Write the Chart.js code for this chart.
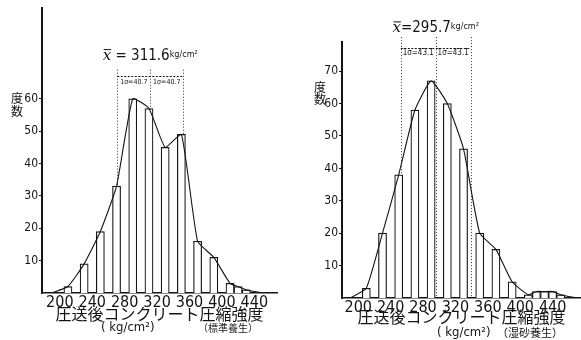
<!DOCTYPE html>
<html>
<head>
<meta charset="utf-8">
<script src="https://cdn.jsdelivr.net/npm/chart.js@4"></script>
<style>
  html, body { margin: 0; padding: 0; background: #fff; }
  #wrap { position: relative; width: 581px; height: 340px; overflow: hidden; }
  canvas { position: absolute; top: 0; }
  #left { left: 0; }
  #right { left: 290px; }
</style>
</head>
<body>
<div id="wrap">
  <canvas id="left" width="290" height="340"></canvas>
  <canvas id="right" width="291" height="340"></canvas>
</div>
<script>
const xTicks = [200, 240, 280, 320, 360, 400, 440];

// 標準養生
const classes1 = [210, 230, 250, 270, 290, 310, 330, 350, 370, 390, 410, 420, 430];
const counts1  = [2, 9, 19, 33, 60, 57, 45, 49, 16, 11, 3, 2, 1];
const polyEnds1 = [190, 450];
const yTicks1 = [10, 20, 30, 40, 50, 60];
const mean1 = 311.6, sd1 = 40.7;

// 湿砂養生
const classes2 = [210, 230, 250, 270, 290, 310, 330, 350, 370, 390, 410, 420, 430, 440, 450];
const counts2  = [3, 20, 38, 58, 67, 60, 46, 20, 15, 5, 1, 2, 2, 2, 1];
const polyEnds2 = [190, 470];
const yTicks2 = [10, 20, 30, 40, 50, 60, 70];
const mean2 = 295.7, sd2 = 43.1;

const narrow = "'Liberation Sans Narrow', 'DejaVu Sans Condensed', 'Liberation Sans', sans-serif";
const jp = "'Noto Sans CJK JP', sans-serif";
const ink = '#141414';

function makePanel(id, classes, counts, ends, yTicks, mean, sd, note, lay) {
  const bars = classes.map((c, i) => ({ x: c, y: counts[i] }));
  const poly = [{ x: ends[0], y: 0 }, ...bars, { x: ends[1], y: 0 }];

  const overlay = {
    id: 'overlay',
    beforeDatasetsDraw(chart) {
      const { ctx, scales: { x, y } } = chart;
      ctx.save();
      ctx.strokeStyle = '#333';
      ctx.lineWidth = 1;
      ctx.setLineDash([1, 2]);
      [mean - sd, mean, mean + sd].forEach(v => {
        const px = Math.round(x.getPixelForValue(v)) + 0.5;
        ctx.beginPath();
        ctx.moveTo(px, y.getPixelForValue(lay.guideTop));
        ctx.lineTo(px, y.getPixelForValue(0));
        ctx.stroke();
      });
      ctx.restore();
    },
    afterDraw(chart) {
      const { ctx, chartArea: ca, scales: { x, y } } = chart;
      ctx.save();
      ctx.fillStyle = ink;
      ctx.strokeStyle = ink;

      // x̄ label
      const cx = x.getPixelForValue(mean);
      const ty = y.getPixelForValue(lay.meanTextY);
      const fX = "italic 15px 'DejaVu Serif', serif";
      const fV = '15px ' + narrow;
      const fU = '9px ' + narrow;
      const sV = lay.eq + mean.toFixed(1);
      const sU = 'kg/cm²';
      ctx.font = fX; const wX = ctx.measureText('x').width;
      ctx.font = fV; const wV = ctx.measureText(sV).width;
      ctx.font = fU; const wU = ctx.measureText(sU).width;
      let sx = cx - (wX + wV + wU) / 2;
      ctx.textAlign = 'left';
      ctx.textBaseline = 'alphabetic';
      ctx.font = fX; ctx.fillText('x', sx, ty + 5);
      ctx.lineWidth = 1;
      ctx.beginPath(); ctx.moveTo(sx + 1, ty - 5.5); ctx.lineTo(sx + wX, ty - 5.5); ctx.stroke();
      sx += wX;
      ctx.font = fV; ctx.fillText(sV, sx, ty + 5);
      sx += wV;
      ctx.font = fU; ctx.fillText(sU, sx, ty + 2);

      // σ bracket
      const pa = x.getPixelForValue(mean - sd), pb = x.getPixelForValue(mean + sd);
      const by = Math.round(y.getPixelForValue(lay.bracketY)) + 0.5;
      ctx.setLineDash([2, 1.5]);
      ctx.lineWidth = 1;
      ctx.beginPath(); ctx.moveTo(pa, by); ctx.lineTo(pb, by); ctx.stroke();
      ctx.setLineDash([]);
      ctx.font = lay.sigmaFont + ' ' + narrow;
      ctx.textAlign = 'center';
      ctx.textBaseline = 'middle';
      const sy = y.getPixelForValue(lay.sigmaTextY);
      ctx.fillText('1σ=' + sd, (pa + cx) / 2, sy);
      ctx.fillText('1σ=' + sd, (cx + pb) / 2, sy);

      // y title
      ctx.font = lay.yTitleFont + ' ' + jp;
      ctx.fillText('度', lay.yTitle[0], lay.yTitle[1]);
      ctx.fillText('数', lay.yTitle[0], lay.yTitle[2]);

      // x title
      ctx.font = '16px ' + jp;
      ctx.fillText('圧送後コンクリート圧縮強度', (ca.left + ca.right) / 2, ca.bottom + lay.titleDy);
      ctx.textAlign = 'left';
      ctx.font = '13px ' + narrow;
      ctx.fillText('( kg/cm²)', lay.unitX, lay.subY);
      ctx.font = lay.noteFont + ' ' + jp;
      ctx.fillText(note, lay.noteX, lay.subY);
      ctx.restore();
    }
  };

  return new Chart(document.getElementById(id), {
    type: 'bar',
    data: {
      datasets: [
        {
          type: 'line',
          data: poly,
          borderColor: ink,
          borderWidth: 1.1,
          pointRadius: 0,
          tension: 0.15,
          fill: false,
          order: 0
        },
        {
          type: 'bar',
          data: bars,
          backgroundColor: '#fff',
          borderColor: ink,
          borderWidth: 1.2,
          barPercentage: 1,
          categoryPercentage: 1,
          order: 1
        }
      ]
    },
    options: {
      responsive: false,
      animation: false,
      layout: { padding: lay.padding },
      plugins: { legend: { display: false }, tooltip: { enabled: false } },
      scales: {
        x: {
          type: 'linear',
          min: lay.xMin,
          max: lay.xMax,
          offset: false,
          afterBuildTicks: s => { s.ticks = xTicks.map(v => ({ value: v })); },
          afterFit: s => { s.height = lay.xHeight; },
          grid: { drawOnChartArea: false, drawTicks: false },
          border: { color: ink, width: 1.5 },
          ticks: { color: ink, padding: 2, maxRotation: 0, autoSkip: false,
                   font: { family: narrow, size: 16, lineHeight: 1 } }
        },
        y: {
          min: 0,
          max: lay.yMax,
          afterBuildTicks: s => { s.ticks = yTicks.map(v => ({ value: v })); },
          afterFit: s => { s.width = lay.yWidth; },
          grid: { drawOnChartArea: false, tickLength: 3, color: ink },
          border: { color: ink, width: 2 },
          ticks: { color: ink, padding: 1, font: { family: narrow, size: 12 } }
        }
      }
    },
    plugins: [overlay]
  });
}

makePanel('left', classes1, counts1, polyEnds1, yTicks1, mean1, sd1, '（標準養生）', {
  xMin: 178, xMax: 468, yMax: 88,
  padding: { top: 7, right: 13, left: 0, bottom: 0 },
  yWidth: 42, xHeight: 47,
  guideTop: 69, meanTextY: 73.5, bracketY: 67, sigmaTextY: 65.2,
  eq: ' = ', sigmaFont: '7px',
  yTitle: [17, 98, 111], yTitleFont: '12px',
  titleDy: 21, unitX: 101, noteX: 198, subY: 328, noteFont: '10px'
});

makePanel('right', classes2, counts2, polyEnds2, yTicks2, mean2, sd2, '（湿砂養生）', {
  xMin: 180, xMax: 475, yMax: 79,
  padding: { top: 42, right: 0, left: 0, bottom: 0 },
  yWidth: 52, xHeight: 42,
  guideTop: 80.5, meanTextY: 83.5, bracketY: 77.2, sigmaTextY: 75.6,
  eq: '=', sigmaFont: '8px',
  yTitle: [30, 87, 99], yTitleFont: '12px',
  titleDy: 19, unitX: 147, noteX: 207, subY: 333, noteFont: '11px'
});
</script>
</body>
</html>
